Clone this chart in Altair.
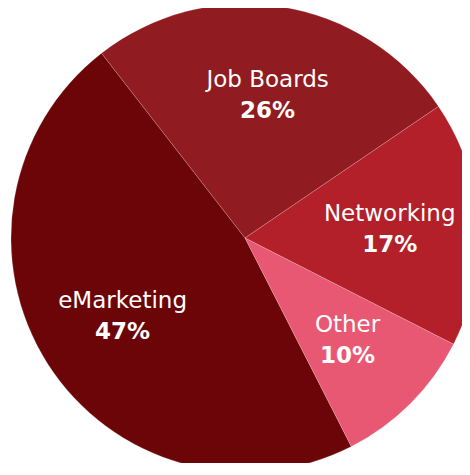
import altair as alt
import pandas as pd

categories = ["eMarketing", "Job Boards", "Networking", "Other"]
shares = [47, 26, 17, 10]
pct_labels = ["47%", "26%", "17%", "10%"]
colors = ["#6c0508", "#901b20", "#b3202a", "#e85872"]

df = pd.DataFrame({"cat": categories, "share": shares, "pct": pct_labels,
                   "order": list(range(len(categories)))})

start = 2.670
theta_scale = alt.Scale(domain=[0, 100], range=[start, start + 6.283185307])

base = alt.Chart(df).encode(
    theta=alt.Theta("share:Q", stack=True, scale=theta_scale),
    order=alt.Order("order:Q"),
    x=alt.value(237),
    y=alt.value(230),
)

arcs = base.mark_arc(radius=234, stroke="white", strokeWidth=0.5, strokeOpacity=0.35).encode(
    color=alt.Color("cat:N", scale=alt.Scale(domain=categories, range=colors), legend=None)
)

names = base.mark_text(radius=145, dy=-15, font="DejaVu Sans", fontSize=23, color="white").encode(
    text="cat:N"
)
pcts = base.mark_text(radius=145, dy=16, font="DejaVu Sans", fontSize=23, fontWeight="bold", color="white").encode(
    text="pct:N"
)

chart = alt.layer(arcs, names, pcts).properties(
    width=454, height=455,
    autosize=alt.AutoSizeParams(type="none"),
    padding=0,
).configure_view(stroke=None)

chart.save("out.html", embed_options={"renderer": "svg", "actions": False})
